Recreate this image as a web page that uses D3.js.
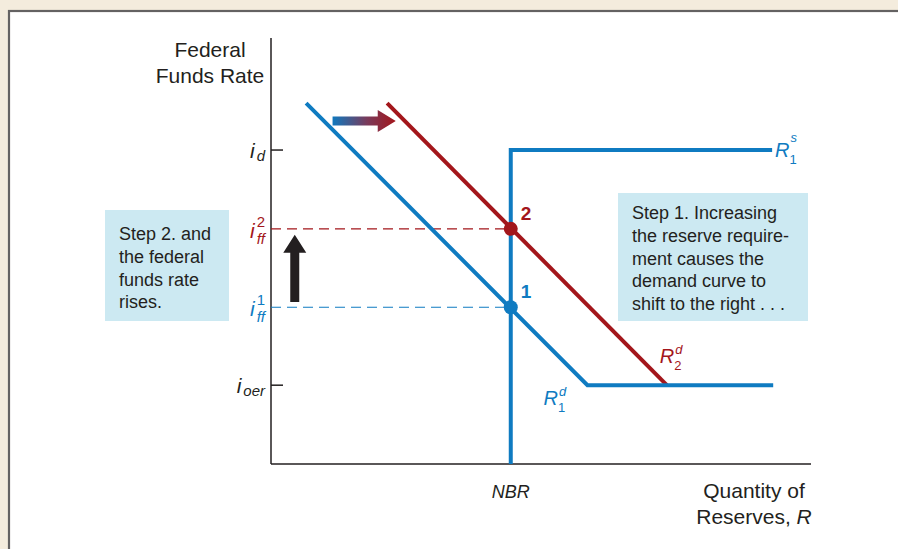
<!DOCTYPE html>
<html><head><meta charset="utf-8">
<script src="https://cdn.jsdelivr.net/npm/d3@7"></script>
<style>
body{margin:0;background:#f4ecdd;overflow:hidden;}
svg{display:block;font-family:"Liberation Sans",Arial,Helvetica,sans-serif;}
</style>
</head><body>
<svg id="c" width="898" height="549"></svg>
<script>
// ---- data (x: quantity of reserves, y: federal funds rate; arbitrary units 0-100) ----
const NBR = 44.4;
const rateId = 73.7, rateOer = 18.5, rateFF1 = 36.8, rateFF2 = 55.2;
const supplyR1 = [[NBR, 0], [NBR, rateId], [92.8, rateId]];
const demandR1 = [[6.5, 84.7], [58.6, rateOer], [93.0, rateOer]];
const demandR2 = [[21.5, 84.7], [73.3, rateOer]];
const equilibria = [
  {label: "1", x: NBR, y: rateFF1, color: "blue"},
  {label: "2", x: NBR, y: rateFF2, color: "red"}
];
const tickedRates = [
  {base: "i", sub: "d", value: rateId},
  {base: "i", sub: "oer", value: rateOer}
];
const dashedRates = [
  {base: "i", sub: "ff", sup: "1", value: rateFF1, color: "blue"},
  {base: "i", sub: "ff", sup: "2", value: rateFF2, color: "red"}
];
const shiftArrow = {x0: 11.4, x1: 23.1, y: 80.5};
const riseArrow = {x: 4.4, y0: 38.0, y1: 53.8};
const leftBoxLines = ["Step 2. and", "the federal", "funds rate", "rises."];
const rightBoxLines = ["Step 1. Increasing", "the reserve require-", "ment causes the", "demand curve to", "shift to the right . . ."];
const yTitle = ["Federal", "Funds Rate"];
const xTitle = ["Quantity of", "Reserves, "];

const COL = {blue: "#0f7bc1", red: "#a3161b", ink: "#231f20", box: "#cce9f2"};

const svg = d3.select("#c");
// panel
svg.append("rect").attr("x", 9).attr("y", 11).attr("width", 900).attr("height", 560)
  .attr("fill", "#fff").attr("stroke", "#646262").attr("stroke-width", 2.2);

const x = d3.scaleLinear().domain([0, 100]).range([271, 811]);
const y = d3.scaleLinear().domain([0, 100]).range([464, 38]);

// text boxes
function box(x0, y0, w, h, lines, tx, ty0, lh) {
  svg.append("rect").attr("x", x0).attr("y", y0).attr("width", w).attr("height", h).attr("fill", COL.box);
  const t = svg.append("text").attr("font-size", 18).attr("fill", COL.ink);
  lines.forEach((l, i) => t.append("tspan").attr("x", tx).attr("y", ty0 + i * lh).text(l));
}
box(105, 210, 124, 111, leftBoxLines, 119, 240, 22.8);
box(618, 193, 190, 128, rightBoxLines, 632, 219, 22.8);

// axes
svg.append("line").attr("x1", x(0)).attr("x2", x(0)).attr("y1", y(0)).attr("y2", y(100))
  .attr("stroke", COL.ink).attr("stroke-width", 1.5);
svg.append("line").attr("x1", x(0)).attr("x2", x(100)).attr("y1", y(0)).attr("y2", y(0))
  .attr("stroke", COL.ink).attr("stroke-width", 1.5);

// axis titles
const yt = svg.append("text").attr("font-size", 21).attr("fill", COL.ink).attr("text-anchor", "middle");
yTitle.forEach((l, i) => yt.append("tspan").attr("x", 210).attr("y", 57 + i * 26).text(l));
const xt = svg.append("text").attr("font-size", 21).attr("fill", COL.ink).attr("text-anchor", "middle");
xt.append("tspan").attr("x", 754).attr("y", 498).text(xTitle[0]);
const l2 = xt.append("tspan").attr("x", 754).attr("y", 524).text(xTitle[1]);
l2.append("tspan").attr("font-style", "italic").text("R");
svg.append("text").attr("x", x(NBR)).attr("y", 498).attr("text-anchor", "middle")
  .attr("font-size", 18).attr("font-style", "italic").attr("fill", COL.ink).text("NBR");

// rate labels
function rateLabel(d, color, baseDy, subDy, supDy) {
  const yy = y(d.value), xr = x(0) - 6;
  const sub = svg.append("text").attr("x", xr).attr("y", yy + subDy).attr("text-anchor", "end")
    .attr("font-size", 15).attr("font-style", "italic").attr("fill", color).text(d.sub);
  const w = sub.node().getComputedTextLength();
  svg.append("text").attr("x", xr - w - 2).attr("y", yy + baseDy).attr("text-anchor", "end")
    .attr("font-size", 21).attr("font-style", "italic").attr("fill", color).text(d.base);
  if (d.sup) svg.append("text").attr("x", xr).attr("y", yy + supDy).attr("text-anchor", "end")
    .attr("font-size", 15).attr("fill", color).text(d.sup);
}
tickedRates.forEach(d => {
  svg.append("line").attr("x1", x(0)).attr("x2", x(0) + 12).attr("y1", y(d.value)).attr("y2", y(d.value))
    .attr("stroke", COL.ink).attr("stroke-width", 1.5);
  rateLabel(d, COL.ink, 8, 11, 0);
});
dashedRates.forEach(d => {
  svg.append("line").attr("x1", x(0)).attr("x2", x(NBR)).attr("y1", y(d.value)).attr("y2", y(d.value))
    .attr("stroke", COL[d.color]).attr("stroke-width", 1.2).attr("stroke-dasharray", "10,6");
  rateLabel(d, COL[d.color], 9, 15, -2);
});

// curves
const line = d3.line().x(d => x(d[0])).y(d => y(d[1]));
svg.append("path").attr("d", line(supplyR1)).attr("fill", "none").attr("stroke", COL.blue).attr("stroke-width", 4);
svg.append("path").attr("d", line(demandR2)).attr("fill", "none").attr("stroke", COL.red).attr("stroke-width", 4);
svg.append("path").attr("d", line(demandR1)).attr("fill", "none").attr("stroke", COL.blue).attr("stroke-width", 4);

// curve labels
function curveLabel(px, py, sub, sup, color, supDy) {
  const r = svg.append("text").attr("x", px).attr("y", py).attr("font-size", 20)
    .attr("font-style", "italic").attr("fill", color).text("R");
  const w = r.node().getComputedTextLength();
  svg.append("text").attr("x", px + w).attr("y", py + 7).attr("font-size", 13).attr("fill", color).text(sub);
  svg.append("text").attr("x", px + w + 1).attr("y", py + supDy).attr("font-size", 13)
    .attr("font-style", "italic").attr("fill", color).text(sup);
}
const s1 = supplyR1[supplyR1.length - 1];
curveLabel(x(s1[0]) + 3, y(s1[1]) + 7, "1", "s", COL.blue, -15);
curveLabel(x(demandR1[1][0]) - 44, y(demandR1[1][1]) + 20, "1", "d", COL.blue, -9);
curveLabel(x(demandR2[1][0]) - 7, y(demandR2[1][1]) - 22, "2", "d", COL.red, -9);

// equilibrium points
equilibria.forEach(d => {
  svg.append("circle").attr("cx", x(d.x)).attr("cy", y(d.y)).attr("r", 7).attr("fill", COL[d.color]);
  svg.append("text").attr("x", x(d.x) + 10).attr("y", y(d.y) - 9).attr("font-size", 19)
    .attr("font-weight", "bold").attr("fill", COL[d.color]).text(d.label);
});

// gradient shift arrow
const defs = svg.append("defs");
const grad = defs.append("linearGradient").attr("id", "g").attr("x1", "0%").attr("x2", "100%");
grad.append("stop").attr("offset", "0%").attr("stop-color", "#0f78be");
grad.append("stop").attr("offset", "55%").attr("stop-color", "#7a3a5a");
grad.append("stop").attr("offset", "100%").attr("stop-color", "#a3161b");
{
  const ax0 = x(shiftArrow.x0), ax1 = x(shiftArrow.x1), ay = y(shiftArrow.y);
  const hb = ax1 - 18;
  svg.append("path").attr("fill", "url(#g)")
    .attr("d", `M${ax0},${ay - 4.5}L${hb},${ay - 4.5}L${hb},${ay - 11}L${ax1},${ay}L${hb},${ay + 11}L${hb},${ay + 4.5}L${ax0},${ay + 4.5}Z`);
}
// black rise arrow
{
  const ax = x(riseArrow.x), ay0 = y(riseArrow.y0), ay1 = y(riseArrow.y1);
  const hb = ay1 + 18;
  svg.append("path").attr("fill", COL.ink)
    .attr("d", `M${ax - 4.5},${ay0}L${ax - 4.5},${hb}L${ax - 11.5},${hb}L${ax},${ay1}L${ax + 11.5},${hb}L${ax + 4.5},${hb}L${ax + 4.5},${ay0}Z`);
}
</script>
</body></html>
